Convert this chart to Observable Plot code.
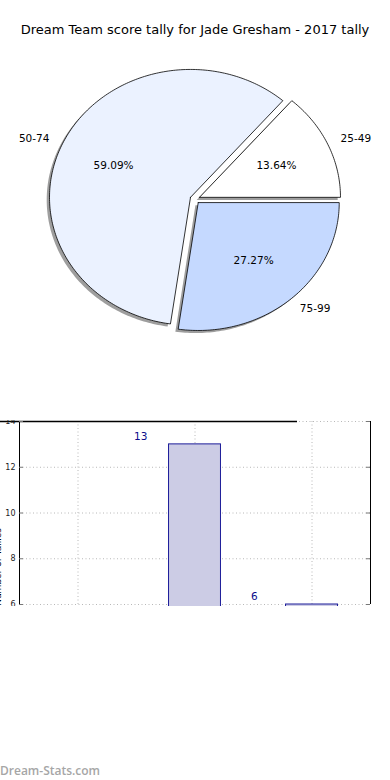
<!DOCTYPE html>
<html>
<head>
<meta charset="utf-8">
<script src="https://cdn.jsdelivr.net/npm/d3@7"></script>
<script src="https://cdn.jsdelivr.net/npm/@observablehq/plot@0.6"></script>
<style>
  html, body { margin: 0; padding: 0; background: #fff; }
  body { width: 390px; height: 780px; position: relative; overflow: hidden; font-family: "DejaVu Sans", sans-serif; }
  #title { position: absolute; top: 21px; left: 0; width: 390px; text-align: center; font-size: 13px; line-height: 18px; color: #000; }
  #pie { position: absolute; top: 0; left: 0; }
  #bars { position: absolute; top: 420px; left: 0; width: 390px; height: 186px; overflow: hidden; }
  #ylab { position: absolute; left: -6px; top: 528px; font-size: 9px; line-height: 9px; color: #000; writing-mode: vertical-rl; transform: rotate(180deg); white-space: nowrap; }
  #mark { position: absolute; left: 0; top: 762px; font-family: "Open Sans", sans-serif; font-weight: 600; font-size: 12px; color: #a6a6a6; }
  svg { overflow: hidden; }
</style>
</head>
<body>
<div id="title">Dream Team score tally for Jade Gresham - 2017 tally</div>
<div id="pie"></div>
<div id="bars"></div>
<div id="ylab">Number of Tallies</div>
<div id="mark">Dream-Stats.com</div>
<script>
// ---- data ----
const categories = ["25-49", "50-74", "75-99"];
const counts = [3, 13, 6];
const sliceColors = ["#ffffff", "#ebf2ff", "#c5d9ff"];
const yTicks = [6, 8, 10, 12, 14];

// ---- pie geometry (unit circle, drawn through Plot x/y scales) ----
const total = d3.sum(counts);
const explode = 0.035;
const shadowOff = -0.02;
let acc = 0;
const slices = categories.map((c, i) => {
  const frac = counts[i] / total;
  const a0 = acc * 2 * Math.PI;
  acc += frac;
  const a1 = acc * 2 * Math.PI;
  const mid = (a0 + a1) / 2;
  return {cat: c, frac, a0, a1, mid, color: sliceColors[i],
          ox: explode * Math.cos(mid), oy: explode * Math.sin(mid)};
});
function polygon(s, dx, dy) {
  const pts = [{x: s.ox + dx, y: s.oy + dy}];
  const n = Math.max(2, Math.ceil((s.a1 - s.a0) / (Math.PI / 180)));
  for (let k = 0; k <= n; k++) {
    const a = s.a0 + (s.a1 - s.a0) * k / n;
    pts.push({x: s.ox + dx + Math.cos(a), y: s.oy + dy + Math.sin(a)});
  }
  pts.push({x: s.ox + dx, y: s.oy + dy});
  return pts;
}
const labels = slices.map(s => ({
  cat: s.cat,
  pct: (s.frac * 100).toFixed(2) + "%",
  lx: (explode + 1.1) * Math.cos(s.mid), ly: (explode + 1.1) * Math.sin(s.mid),
  px: s.ox + 0.6 * Math.cos(s.mid), py: s.oy + 0.6 * Math.sin(s.mid),
  right: Math.cos(s.mid) >= 0
}));

const cx = 194.5, cy = 198.7, rx = 141, ry = 127.9;
const pie = Plot.plot({
  width: 390, height: 400,
  x: {domain: [-1, 1], range: [cx - rx, cx + rx], axis: null},
  y: {domain: [-1, 1], range: [cy + ry, cy - ry], axis: null},
  style: {fontFamily: "DejaVu Sans, sans-serif", background: "transparent"},
  marks: [
    ...slices.map(s => Plot.line(polygon(s, shadowOff, shadowOff), {x: "x", y: "y", fill: "#000", fillOpacity: 0.38, stroke: "none"})),
    ...slices.map(s => Plot.line(polygon(s, 0, 0), {x: "x", y: "y", fill: s.color, stroke: "#000", strokeWidth: 0.8, strokeLinejoin: "miter"})),
    Plot.text(labels.filter(d => d.right), {x: "lx", y: "ly", text: "cat", textAnchor: "start", fontSize: 10.5, fill: "#000"}),
    Plot.text(labels.filter(d => !d.right), {x: "lx", y: "ly", text: "cat", textAnchor: "end", fontSize: 10.5, fill: "#000"}),
    Plot.text(labels, {x: "px", y: "py", text: "pct", fontSize: 10.5, fill: "#000"})
  ]
});
document.getElementById("pie").append(pie);

// ---- bar chart ----
const bars = categories.map((c, i) => ({cat: c, i: i + 1, v: counts[i]}));
const half = 0.222;
const tickLen = 4 / 117;
const barPlot = Plot.plot({
  width: 390, height: 186,
  marginLeft: 19, marginRight: 20, marginTop: 1, marginBottom: 2,
  x: {type: "linear", domain: [0.5, 3.5], axis: null},
  y: {type: "linear", domain: [6, 14], axis: null},
  style: {fontFamily: "DejaVu Sans, sans-serif", background: "transparent"},
  marks: [
    Plot.gridY(yTicks, {stroke: "#b8b8b8", strokeOpacity: 1, strokeDasharray: "1,2.5"}),
    Plot.gridX([1, 2, 3], {stroke: "#b8b8b8", strokeOpacity: 1, strokeDasharray: "1,2.5"}),
    Plot.rectY(bars, {x1: d => d.i - half, x2: d => d.i + half, y1: () => 0, y2: "v", fill: "#ccccE5", stroke: "#1c1c99", strokeWidth: 1}),
    Plot.text(bars, {x: "i", y: "v", text: d => String(d.v), textAnchor: "start", dx: -61, dy: -8, fill: "#0b0b8a", fontSize: 10.5}),
    Plot.ruleX([0.5, 3.5], {stroke: "#000", strokeWidth: 1}),
    Plot.ruleY([14], {stroke: "#000", strokeWidth: 1.5, insetLeft: -19, insetRight: 73}),
    Plot.ruleY(yTicks, {x1: () => 0.5, x2: () => 0.5 + tickLen, stroke: "#777"}),
    Plot.ruleY(yTicks, {x1: () => 3.5 - tickLen, x2: () => 3.5, stroke: "#777"}),
    Plot.text(yTicks, {x: () => 0.5, y: d => d, text: d => String(d), textAnchor: "end", dx: -4, fontSize: 8, fill: "#222"})
  ]
});
document.getElementById("bars").append(barPlot);
</script>
</body>
</html>
